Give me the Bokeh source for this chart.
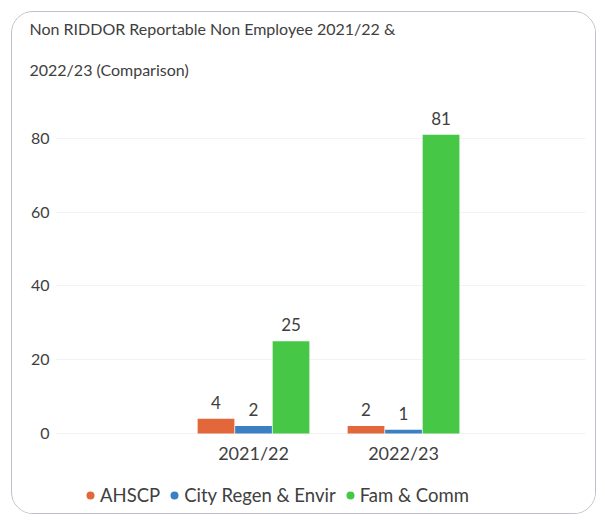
import numpy as np
from bokeh.plotting import figure
from bokeh.models import (ColumnDataSource, Range1d, FixedTicker, LabelSet, Legend,
                          LegendItem, Title)
from bokeh.core.properties import value
from bokeh.transform import dodge
from bokeh.embed import file_html
from bokeh.resources import INLINE

years = ["2021/22", "2022/23"]
series = ["AHSCP", "City Regen & Envir", "Fam & Comm"]
ahscp = [4, 2]
city = [2, 1]
fam = [25, 81]
colors = ["#E2673A", "#3C80C4", "#46C746"]
y_ticks = [0, 20, 40, 60, 80]

FONT = "Lato"
TXT = "#404040"

xs = np.arange(len(years))
src = ColumnDataSource(dict(x=xs, AHSCP=ahscp, CITY=city, FAM=fam))

p = figure(width=585, height=503, output_backend="svg", toolbar_location=None,
           title=None, x_range=Range1d(-1.32, 2.213), y_range=Range1d(-20.9, 90.3),
           min_border_left=43, min_border_right=12, min_border_top=88, min_border_bottom=5)
p.styles = {"border": "1.5px solid #C4BCCB", "border-radius": "22px",
            "margin-left": "11px", "margin-top": "11px", "overflow": "hidden"}

t2 = Title(text="2022/23 (Comparison)", align="left", text_font=FONT,
           text_font_size="16px", text_font_style="normal", text_color=TXT, offset=-26, standoff=44)
t1 = Title(text="Non RIDDOR Reportable Non Employee 2021/22 &", align="left", text_font=FONT,
           text_font_size="16px", text_font_style="normal", text_color=TXT, offset=-26, standoff=-4)
p.add_layout(t2, "above")
p.add_layout(t1, "above")

offsets = [-0.25, 0.0, 0.25]
fields = ["AHSCP", "CITY", "FAM"]
renderers = []
for f, off, c in zip(fields, offsets, colors):
    p.vbar(x=dodge("x", off), top=f, width=0.245, source=src, fill_color=c, line_color=None)
    lbl = LabelSet(x=dodge("x", off), y=f, text=f, source=src, text_align="center",
                   text_baseline="bottom", y_offset=10, text_font=value(FONT),
                   text_font_size="17px", text_color=TXT)
    p.add_layout(lbl)
    renderers.append(p.scatter(x=[np.nan], y=[np.nan], size=10, marker="circle",
                               fill_color=c, line_color=None))

p.xaxis.ticker = FixedTicker(ticks=list(xs))
p.xaxis.major_label_overrides = {int(i): y for i, y in zip(xs, years)}
p.xaxis.fixed_location = 0
p.yaxis.ticker = FixedTicker(ticks=y_ticks)
for ax in (p.xaxis, p.yaxis):
    ax.axis_line_color = None
    ax.major_tick_line_color = None
    ax.minor_tick_line_color = None
    ax.major_label_text_font = FONT
    ax.major_label_text_color = TXT
p.xaxis.major_label_text_font_size = "18px"
p.yaxis.major_label_text_font_size = "16px"
p.xaxis.major_label_standoff = 3
p.yaxis.major_label_standoff = 0
p.xgrid.grid_line_color = None
p.ygrid.grid_line_color = "#F3F3F3"
p.outline_line_color = None

legend = Legend(items=[LegendItem(label=s, renderers=[r]) for s, r in zip(series, renderers)],
                orientation="horizontal", location=(25, 3), label_text_font=FONT,
                label_text_font_size="18.5px", label_text_color=TXT, glyph_width=20,
                glyph_height=24, label_standoff=0, spacing=4, padding=2, margin=0,
                border_line_color=None, background_fill_alpha=0)
p.add_layout(legend, "center")

open("out.html", "w").write(file_html(p, INLINE))
